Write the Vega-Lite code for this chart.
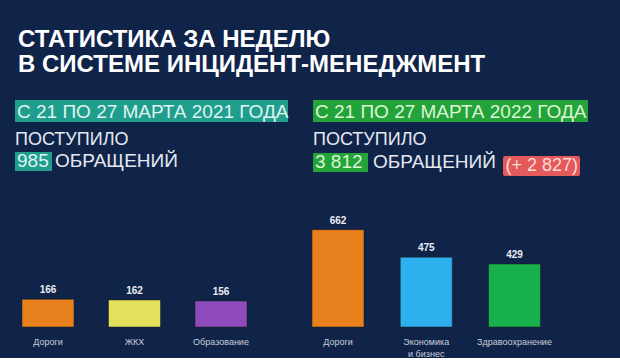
{
  "$schema": "https://vega.github.io/schema/vega-lite/v6.json",
  "background": "#10244a",
  "padding": {"top": 28, "left": 0, "right": 0, "bottom": 0},
  "config": {
    "view": {"stroke": null},
    "locale": {"number": {"decimal": ",", "thousands": " ", "grouping": [3], "currency": ["", ""]}},
    "text": {"font": "Liberation Sans"}
  },
  "title": {
    "text": ["СТАТИСТИКА ЗА НЕДЕЛЮ", "В СИСТЕМЕ ИНЦИДЕНТ-МЕНЕДЖМЕНТ"],
    "anchor": "start",
    "frame": "group",
    "dx": 18,
    "font": "Liberation Sans",
    "fontSize": 24,
    "fontWeight": "bold",
    "color": "#ffffff",
    "lineHeight": 25,
    "offset": 18
  },
  "datasets": {
    "totals": [
      {"year": 2021, "period": "С 21 ПО 27 МАРТА 2021 ГОДА", "total": 985},
      {"year": 2022, "period": "С 21 ПО 27 МАРТА 2022 ГОДА", "total": 3812, "diff": 2827}
    ],
    "bars": [
      {"year": 2021, "category": "Дороги", "count": 166},
      {"year": 2021, "category": "ЖКХ", "count": 162},
      {"year": 2021, "category": "Образование", "count": 156},
      {"year": 2022, "category": "Дороги", "count": 662},
      {"year": 2022, "category": "Экономика и бизнес", "count": 475},
      {"year": 2022, "category": "Здравоохранение", "count": 429}
    ]
  },
  "spacing": 30,
  "vconcat": [
    {
      "width": 620,
      "height": 90,
      "data": {"name": "totals"},
      "layer": [
        {
          "transform": [{"filter": "datum.year == 2021"}],
          "mark": {"type": "rect", "color": "#1f9d8d"},
          "encoding": {
            "x": {"datum": 15, "type": "quantitative", "scale": {"domain": [0, 620], "nice": false, "zero": false}, "axis": null},
            "x2": {"datum": 288},
            "y": {"datum": 5, "type": "quantitative", "scale": {"domain": [0, 90], "nice": false, "zero": false, "reverse": true}, "axis": null},
            "y2": {"datum": 27}
          }
        },
        {
          "transform": [{"filter": "datum.year == 2022"}],
          "mark": {"type": "rect", "color": "#23a33a"},
          "encoding": {
            "x": {"datum": 313, "type": "quantitative", "scale": {"domain": [0, 620], "nice": false, "zero": false}, "axis": null},
            "x2": {"datum": 588},
            "y": {"datum": 5, "type": "quantitative", "scale": {"domain": [0, 90], "nice": false, "zero": false, "reverse": true}, "axis": null},
            "y2": {"datum": 27}
          }
        },
        {
          "transform": [{"filter": "datum.year == 2021"}],
          "mark": {"type": "text", "align": "left", "baseline": "middle", "fontSize": 19, "color": "#e0f4f0"},
          "encoding": {
            "x": {"datum": 17, "type": "quantitative", "scale": {"domain": [0, 620], "nice": false, "zero": false}, "axis": null},
            "y": {"datum": 16.5, "type": "quantitative", "scale": {"domain": [0, 90], "nice": false, "zero": false, "reverse": true}, "axis": null},
            "text": {"field": "period"}
          }
        },
        {
          "transform": [{"filter": "datum.year == 2022"}],
          "mark": {"type": "text", "align": "left", "baseline": "middle", "fontSize": 19, "color": "#dcf7d4"},
          "encoding": {
            "x": {"datum": 315, "type": "quantitative", "scale": {"domain": [0, 620], "nice": false, "zero": false}, "axis": null},
            "y": {"datum": 16.5, "type": "quantitative", "scale": {"domain": [0, 90], "nice": false, "zero": false, "reverse": true}, "axis": null},
            "text": {"field": "period"}
          }
        },
        {
          "transform": [{"filter": "datum.year == 2021"}],
          "mark": {"type": "text", "align": "left", "baseline": "alphabetic", "fontSize": 18, "color": "#e6e9f0"},
          "encoding": {
            "x": {"datum": 15, "type": "quantitative", "scale": {"domain": [0, 620], "nice": false, "zero": false}, "axis": null},
            "y": {"datum": 50, "type": "quantitative", "scale": {"domain": [0, 90], "nice": false, "zero": false, "reverse": true}, "axis": null},
            "text": {"value": "ПОСТУПИЛО"}
          }
        },
        {
          "transform": [{"filter": "datum.year == 2022"}],
          "mark": {"type": "text", "align": "left", "baseline": "alphabetic", "fontSize": 18, "color": "#e6e9f0"},
          "encoding": {
            "x": {"datum": 313, "type": "quantitative", "scale": {"domain": [0, 620], "nice": false, "zero": false}, "axis": null},
            "y": {"datum": 50, "type": "quantitative", "scale": {"domain": [0, 90], "nice": false, "zero": false, "reverse": true}, "axis": null},
            "text": {"value": "ПОСТУПИЛО"}
          }
        },
        {
          "transform": [{"filter": "datum.year == 2021"}],
          "mark": {"type": "rect", "color": "#1f9d8d"},
          "encoding": {
            "x": {"datum": 15, "type": "quantitative", "scale": {"domain": [0, 620], "nice": false, "zero": false}, "axis": null},
            "x2": {"datum": 52},
            "y": {"datum": 57, "type": "quantitative", "scale": {"domain": [0, 90], "nice": false, "zero": false, "reverse": true}, "axis": null},
            "y2": {"datum": 76}
          }
        },
        {
          "transform": [{"filter": "datum.year == 2022"}],
          "mark": {"type": "rect", "color": "#23a33a"},
          "encoding": {
            "x": {"datum": 313, "type": "quantitative", "scale": {"domain": [0, 620], "nice": false, "zero": false}, "axis": null},
            "x2": {"datum": 368},
            "y": {"datum": 58, "type": "quantitative", "scale": {"domain": [0, 90], "nice": false, "zero": false, "reverse": true}, "axis": null},
            "y2": {"datum": 77}
          }
        },
        {
          "transform": [{"filter": "datum.year == 2021"}],
          "mark": {"type": "text", "align": "left", "baseline": "alphabetic", "fontSize": 19, "color": "#e0f4f0"},
          "encoding": {
            "x": {"datum": 17, "type": "quantitative", "scale": {"domain": [0, 620], "nice": false, "zero": false}, "axis": null},
            "y": {"datum": 72, "type": "quantitative", "scale": {"domain": [0, 90], "nice": false, "zero": false, "reverse": true}, "axis": null},
            "text": {"field": "total", "type": "quantitative", "format": ",d"}
          }
        },
        {
          "transform": [{"filter": "datum.year == 2022"}],
          "mark": {"type": "text", "align": "left", "baseline": "alphabetic", "fontSize": 19, "color": "#dcf7d4"},
          "encoding": {
            "x": {"datum": 315, "type": "quantitative", "scale": {"domain": [0, 620], "nice": false, "zero": false}, "axis": null},
            "y": {"datum": 73, "type": "quantitative", "scale": {"domain": [0, 90], "nice": false, "zero": false, "reverse": true}, "axis": null},
            "text": {"field": "total", "type": "quantitative", "format": ",d"}
          }
        },
        {
          "transform": [{"filter": "datum.year == 2021"}],
          "mark": {"type": "text", "align": "left", "baseline": "alphabetic", "fontSize": 19, "color": "#e6e9f0"},
          "encoding": {
            "x": {"datum": 55, "type": "quantitative", "scale": {"domain": [0, 620], "nice": false, "zero": false}, "axis": null},
            "y": {"datum": 72, "type": "quantitative", "scale": {"domain": [0, 90], "nice": false, "zero": false, "reverse": true}, "axis": null},
            "text": {"value": "ОБРАЩЕНИЙ"}
          }
        },
        {
          "transform": [{"filter": "datum.year == 2022"}],
          "mark": {"type": "text", "align": "left", "baseline": "alphabetic", "fontSize": 19, "color": "#e6e9f0"},
          "encoding": {
            "x": {"datum": 373, "type": "quantitative", "scale": {"domain": [0, 620], "nice": false, "zero": false}, "axis": null},
            "y": {"datum": 73, "type": "quantitative", "scale": {"domain": [0, 90], "nice": false, "zero": false, "reverse": true}, "axis": null},
            "text": {"value": "ОБРАЩЕНИЙ"}
          }
        },
        {
          "transform": [{"filter": "datum.year == 2022"}],
          "mark": {"type": "rect", "color": "#e25a5a", "cornerRadius": 2},
          "encoding": {
            "x": {"datum": 503, "type": "quantitative", "scale": {"domain": [0, 620], "nice": false, "zero": false}, "axis": null},
            "x2": {"datum": 580},
            "y": {"datum": 61, "type": "quantitative", "scale": {"domain": [0, 90], "nice": false, "zero": false, "reverse": true}, "axis": null},
            "y2": {"datum": 81}
          }
        },
        {
          "transform": [
            {"filter": "datum.year == 2022"},
            {"calculate": "'(+ ' + format(datum.diff, ',d') + ')'", "as": "diffLabel"}
          ],
          "mark": {"type": "text", "align": "left", "baseline": "alphabetic", "fontSize": 18, "color": "#ffd9d9"},
          "encoding": {
            "x": {"datum": 505.5, "type": "quantitative", "scale": {"domain": [0, 620], "nice": false, "zero": false}, "axis": null},
            "y": {"datum": 76, "type": "quantitative", "scale": {"domain": [0, 90], "nice": false, "zero": false, "reverse": true}, "axis": null},
            "text": {"field": "diffLabel"}
          }
        }
      ]
    },
    {
      "spacing": 20,
      "resolve": {"scale": {"x": "independent", "y": "independent"}},
      "hconcat": [
        {
          "width": 269,
          "height": 111,
          "data": {"name": "bars"},
          "transform": [{"filter": "datum.year == 2021"}],
          "encoding": {
            "x": {
              "field": "category", "type": "nominal", "sort": null,
              "scale": {"paddingInner": 0.399, "paddingOuter": 0.2543},
              "axis": {"title": null, "domain": false, "ticks": false, "labelAngle": 0, "labelColor": "#c9cdd8", "labelFont": "Liberation Sans", "labelFontSize": 9, "labelPadding": 10, "labelLineHeight": 12}
            },
            "y": {"field": "count", "type": "quantitative", "scale": {"domain": [0, 665], "nice": false}, "axis": null}
          },
          "layer": [
            {
              "mark": {"type": "bar", "stroke": "#1a1a1a", "strokeOpacity": 0.5, "strokeWidth": 1},
              "encoding": {
                "color": {
                  "field": "category", "type": "nominal", "legend": null,
                  "scale": {"domain": ["Дороги", "ЖКХ", "Образование", "Экономика и бизнес", "Здравоохранение"], "range": ["#e8801e", "#e4e25c", "#8f4bbd", "#2eb0ee", "#19b04e"]}
                }
              }
            },
            {
              "mark": {"type": "text", "baseline": "middle", "dy": -9, "fontSize": 10, "fontWeight": "bold", "color": "#e9edf5"},
              "encoding": {"text": {"field": "count", "type": "quantitative"}}
            }
          ]
        },
        {
          "width": 274.5,
          "height": 111,
          "data": {"name": "bars"},
          "transform": [{"filter": "datum.year == 2022"}],
          "encoding": {
            "x": {
              "field": "category", "type": "nominal", "sort": null,
              "scale": {"paddingInner": 0.411, "paddingOuter": 0.2606},
              "axis": {"title": null, "domain": false, "ticks": false, "labelAngle": 0, "labelColor": "#c9cdd8", "labelFont": "Liberation Sans", "labelFontSize": 9, "labelPadding": 10, "labelLineHeight": 12, "labelExpr": "datum.label == 'Экономика и бизнес' ? ['Экономика', 'и бизнес'] : datum.label"}
            },
            "y": {"field": "count", "type": "quantitative", "scale": {"domain": [0, 755], "nice": false}, "axis": null}
          },
          "layer": [
            {
              "mark": {"type": "bar", "stroke": "#1a1a1a", "strokeOpacity": 0.5, "strokeWidth": 1},
              "encoding": {
                "color": {
                  "field": "category", "type": "nominal", "legend": null,
                  "scale": {"domain": ["Дороги", "ЖКХ", "Образование", "Экономика и бизнес", "Здравоохранение"], "range": ["#e8801e", "#e4e25c", "#8f4bbd", "#2eb0ee", "#19b04e"]}
                }
              }
            },
            {
              "mark": {"type": "text", "baseline": "middle", "dy": -9, "fontSize": 10, "fontWeight": "bold", "color": "#e9edf5"},
              "encoding": {"text": {"field": "count", "type": "quantitative"}}
            }
          ]
        }
      ]
    }
  ]
}
